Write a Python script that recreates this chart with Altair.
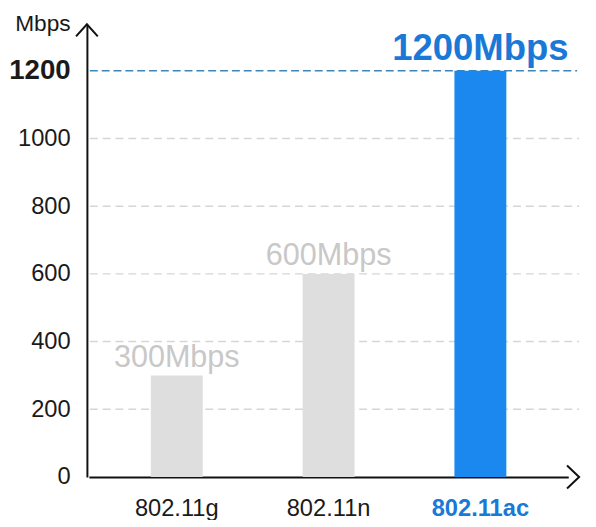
import altair as alt
import pandas as pd

# ---- data ----
standards = ["802.11g", "802.11n", "802.11ac"]
speeds = [300, 600, 1200]
speed_labels = ["300Mbps", "600Mbps", "1200Mbps"]
grid_values = [200, 400, 600, 800, 1000]
tick_values = [0, 200, 400, 600, 800, 1000, 1200]
highlight = "802.11ac"
top_value = 1200
unit = "Mbps"

# ---- styles ----
FONT = "Liberation Sans"
W, H = 499, 459
BLUE_BAR = "#1a88ee"
BLUE_TEXT = "#1a78d6"
BLUE_LINE = "#3c86b8"
GRAY_BAR = "#dedede"
GRAY_TEXT = "#c8c8c8"
GRID = "#d6d6d6"
INK = "#1a1a1a"

df = pd.DataFrame({"standard": standards, "speed": speeds, "label": speed_labels})
grid_df = pd.DataFrame({"speed": grid_values})
top_df = pd.DataFrame({"speed": [top_value]})
dummy = pd.DataFrame({"a": [0]})

x_scale = alt.Scale(domain=standards, range=[2, 488], paddingInner=0.658, paddingOuter=0.408, round=False)
y_scale = alt.Scale(domain=[0, 1337], nice=False, zero=True)

x_axis = alt.Axis(
    title=None, ticks=False, grid=False, labelAngle=0,
    domainColor="#111", domainWidth=2,
    labelFont=FONT, labelFontSize=24, labelPadding=20,
    labelColor=alt.ExprRef(f"datum.value == '{highlight}' ? '{BLUE_TEXT}' : '{INK}'"),
    labelFontWeight=alt.ExprRef(f"datum.value == '{highlight}' ? 'bold' : 'normal'"),
)
y_axis = alt.Axis(
    values=tick_values, format="d", grid=False, ticks=False,
    domainColor="#111", domainWidth=2,
    labelFont=FONT, labelColor=INK, labelPadding=17,
    labelFontSize=alt.ExprRef(f"datum.value == {top_value} ? 28 : 24"),
    labelFontWeight=alt.ExprRef(f"datum.value == {top_value} ? 'bold' : 'normal'"),
    title=unit, titleAngle=0, titleX=-17, titleY=6, titleAlign="right",
    titleBaseline="alphabetic", titleFont=FONT, titleFontSize=23,
    titleFontWeight="normal", titleColor=INK,
)

X = alt.X("standard:N", scale=x_scale, axis=x_axis, sort=standards)
Y = alt.Y("speed:Q", scale=y_scale, axis=y_axis)

grid = alt.Chart(grid_df).mark_rule(color=GRID, strokeDash=[8, 5], strokeWidth=1.5).encode(
    y=Y, x=alt.value(3), x2=alt.value(W)
)
top_rule = alt.Chart(top_df).mark_rule(color=BLUE_LINE, strokeDash=[8, 4], strokeWidth=1.5).encode(
    y=Y, x=alt.value(3), x2=alt.value(W - 2)
)

bars = alt.Chart(df).mark_bar().encode(
    x=X, y=Y,
    color=alt.condition(alt.datum.standard == highlight, alt.value(BLUE_BAR), alt.value(GRAY_BAR)),
)

text_gray = alt.Chart(df).transform_filter(alt.datum.standard != highlight).mark_text(
    font=FONT, fontSize=31, color=GRAY_TEXT, dy=-9, baseline="alphabetic"
).encode(x=X, y=Y, text="label:N")
text_blue = alt.Chart(df).transform_filter(alt.datum.standard == highlight).mark_text(
    font=FONT, fontSize=37, fontWeight="bold", color=BLUE_TEXT, dy=-11, baseline="alphabetic"
).encode(x=X, y=Y, text="label:N")

arrow_y = alt.Chart(dummy).mark_point(
    shape="M-0.9,1L0,0L0.9,1", size=600, filled=False, stroke="#111", strokeWidth=2, opacity=1
).encode(x=alt.value(0), y=alt.value(0))
arrow_x = alt.Chart(dummy).mark_point(
    shape="M-1,-0.95L0,0L-1,0.95", size=600, filled=False, stroke="#111", strokeWidth=2, opacity=1
).encode(x=alt.value(W), y=alt.value(H))

chart = alt.layer(grid, top_rule, bars, text_gray, text_blue, arrow_y, arrow_x).properties(
    width=W, height=H,
    padding={"left": 80, "top": 13, "right": 9, "bottom": 40},
    autosize=alt.AutoSizeParams(type="none"),
).configure_view(stroke=None)

chart.save("out.html", embed_options={"renderer": "svg", "actions": False})
